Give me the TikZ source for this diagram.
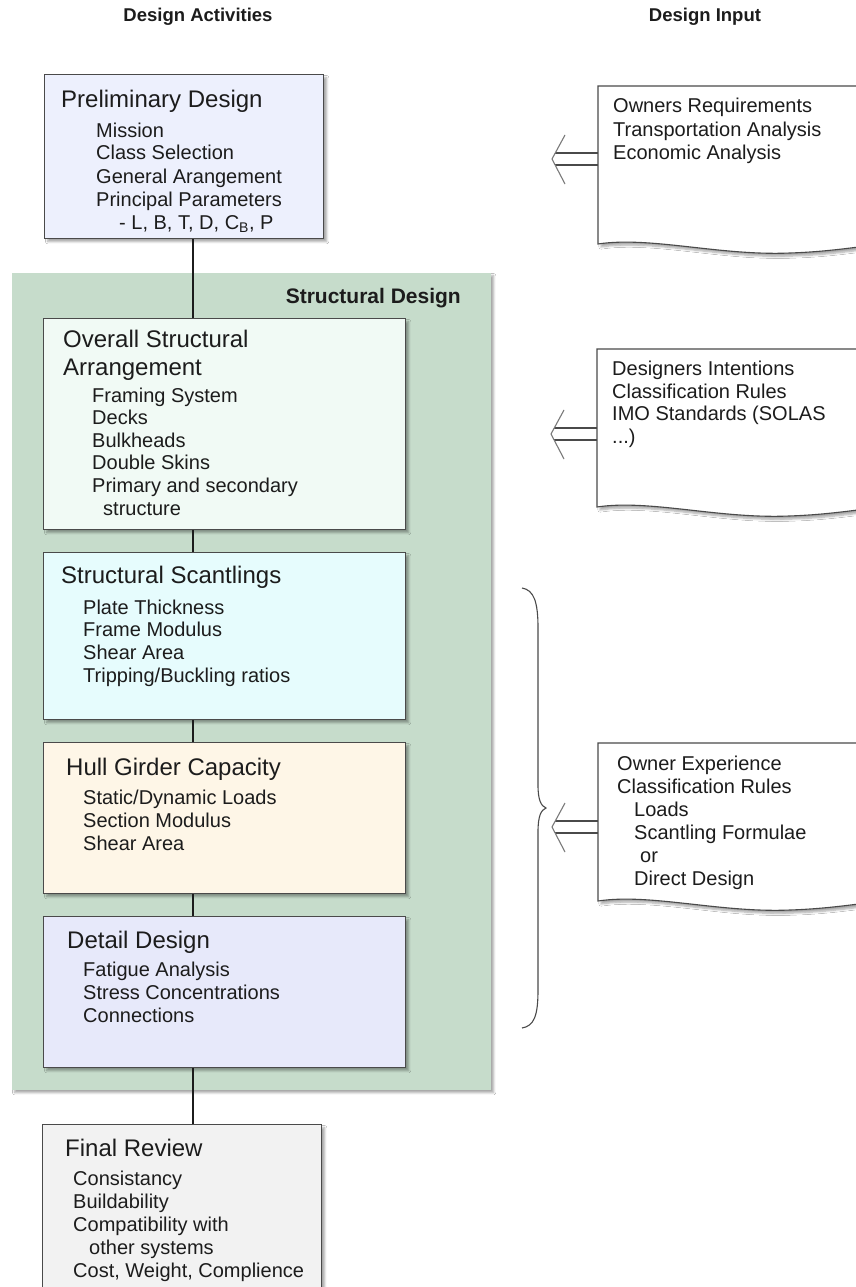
\documentclass[tikz,border=0pt]{standalone}
\usepackage{fontspec}
\setmainfont{Liberation Sans}
\usetikzlibrary{calc,shadows.blur}
\definecolor{bord}{HTML}{4A4A4A}
\definecolor{txt}{HTML}{1C1C1C}
\definecolor{panelgreen}{HTML}{C6DCCB}
\definecolor{prelimfill}{HTML}{EDF0FD}
\definecolor{overallfill}{HTML}{F1FAF5}
\definecolor{scantfill}{HTML}{E6FCFD}
\definecolor{hullfill}{HTML}{FEF6E7}
\definecolor{detailfill}{HTML}{E7E9FA}
\definecolor{finalfill}{HTML}{F2F2F2}
\definecolor{arrowgrey}{HTML}{7A7A7A}
\newcommand\hollowarrow[2]{%
  \draw[arrl] ($(#1)+(0,-6)$) -- ($(#2)+(3,-6)$);
  \draw[arrl] ($(#1)+(0,6)$) -- ($(#2)+(3,6)$);
  \draw[arrh] ($(#2)+(13,-24)$) -- (#2) -- ($(#2)+(13,25)$);}
\begin{document}
\begin{tikzpicture}[x=1pt,y=-1pt,
  softshadow/.style={blur shadow={shadow xshift=3pt, shadow yshift=-3pt, shadow blur steps=6, shadow opacity=35}},
  box/.style={draw=bord, line width=1.3pt, anchor=north west, inner sep=0pt, softshadow},
  ttl/.style={anchor=base west, inner sep=0pt, font=\fontsize{24}{28}\selectfont, text=txt},
  itm/.style={anchor=base west, inner sep=0pt, font=\fontsize{20}{23}\selectfont, text=txt},
  hdr/.style={anchor=base, inner sep=0pt, font=\fontsize{18.5}{21}\selectfont\bfseries, text=txt},
  docsty/.style={draw=bord, line width=1.1pt, fill=white, softshadow},
  arrl/.style={draw=bord, line width=1.1pt},
  arrh/.style={draw=arrowgrey, line width=1.1pt},
  conn/.style={draw=txt, line width=1.3pt},
  bracesty/.style={draw=bord, line width=1.1pt},
  docpic/.pic={\draw[docsty] (0,158) -- (0,0) -- (290,0) -- (290,157)
      .. controls (247,163) and (222,166) .. (192,167)
      .. controls (122,170) and (52,150) .. (0,158) -- cycle;}
  ]
\useasboundingbox (0,0) rectangle (855,1287);
\fill[white] (0,0) rectangle (855,1287);

% headers
\node[hdr] (h1) at (198,22) {Design Activities};
\node[hdr] (h2) at (705,22) {Design Input};

% structural design panel
\node[box, draw=none, fill=panelgreen, minimum width=479pt, minimum height=817pt] (panel) at (11,272) {};
\node[anchor=base east, inner sep=0pt, font=\fontsize{21}{24}\selectfont\bfseries, text=txt] (paneltitle) at (461,303) {Structural Design};

% boxes
\coordinate (spine) at (193,0);
\node[box, fill=prelimfill, minimum width=279pt, minimum height=164pt] (prelim) at (44,74) {};
\node[box, fill=overallfill, minimum width=362pt, minimum height=211pt] (overall) at (43,318) {};
\node[box, fill=scantfill, minimum width=362pt, minimum height=167pt] (scant) at (43,552) {};
\node[box, fill=hullfill, minimum width=362pt, minimum height=151pt] (hull) at (43,742) {};
\node[box, fill=detailfill, minimum width=362pt, minimum height=151pt] (detail) at (43,916) {};
\node[box, fill=finalfill, minimum width=279pt, minimum height=220pt] (final) at (42,1124) {};

% connectors
\draw[conn] (prelim.south -| spine) -- (overall.north -| spine);
\draw[conn] (overall.south -| spine) -- (scant.north -| spine);
\draw[conn] (scant.south -| spine) -- (hull.north -| spine);
\draw[conn] (hull.south -| spine) -- (detail.north -| spine);
\draw[conn] (detail.south -| spine) -- (final.north -| spine);

% preliminary design
\node[ttl] (pt) at (61,108) {Preliminary Design};
\foreach \t [count=\i] in {Mission, Class Selection, General Arangement, Principal Parameters}
  \node[itm] (pi\i) at (96,{137+23*(\i-1)}) {\t};
\node[itm] (pi5) at (119,229) {- L, B, T, D, C\textsubscript{B}, P};

% overall structural arrangement
\node[ttl] (ot1) at (63,347) {Overall Structural};
\node[ttl] (ot2) at (63,375) {Arrangement};
\foreach \t [count=\i] in {Framing System, Decks, Bulkheads, Double Skins, Primary and secondary}
  \node[itm] (oi\i) at (92,{402+22.6*(\i-1)}) {\t};
\node[itm] (oi6) at (103,515) {structure};

% structural scantlings
\node[ttl] (st) at (61,583) {Structural Scantlings};
\foreach \t [count=\i] in {Plate Thickness, Frame Modulus, Shear Area, Tripping/Buckling ratios}
  \node[itm] (si\i) at (83,{614+22.7*(\i-1)}) {\t};

% hull girder capacity
\node[ttl] (ht) at (66,775) {Hull Girder Capacity};
\foreach \t [count=\i] in {Static/Dynamic Loads, Section Modulus, Shear Area}
  \node[itm] (hi\i) at (83,{804+23*(\i-1)}) {\t};

% detail design
\node[ttl] (dt) at (67,948) {Detail Design};
\foreach \t [count=\i] in {Fatigue Analysis, Stress Concentrations, Connections}
  \node[itm] (di\i) at (83,{976+23*(\i-1)}) {\t};

% final review
\node[ttl] (ft) at (65,1156) {Final Review};
\foreach \t [count=\i] in {Consistancy, Buildability, Compatibility with}
  \node[itm] (fi\i) at (73,{1185+23*(\i-1)}) {\t};
\node[itm] (fi4) at (89,1254) {other systems};
\node[itm] (fi5) at (73,1277) {Cost, Weight, Complience};

% design input documents
\pic at (598,86) {docpic};
\node[itm] (d1a) at (613,113) {Owners Requirements};
\node[itm] (d1b) at (613,136) {Transportation Analysis};
\node[itm] (d1c) at (613,159) {Economic Analysis};

\pic at (597,349) {docpic};
\node[itm] (d2a) at (612,375) {Designers Intentions};
\node[itm] (d2b) at (612,398) {Classification Rules};
\node[itm] (d2c) at (612,420) {IMO Standards (SOLAS};
\node[itm] (d2d) at (612,443) {...)};

\pic at (598,743) {docpic};
\node[itm] (d3a) at (617,770) {Owner Experience};
\node[itm] (d3b) at (617,793) {Classification Rules};
\node[itm] (d3c) at (634,816) {Loads};
\node[itm] (d3d) at (634,839) {Scantling Formulae};
\node[itm] (d3e) at (640,862) {or};
\node[itm] (d3f) at (634,885) {Direct Design};

% hollow arrows
\coordinate (a1s) at (598,159); \coordinate (a1t) at (552,159);
\coordinate (a2s) at (597,434); \coordinate (a2t) at (551,434);
\coordinate (a3s) at (598,827); \coordinate (a3t) at (552,827);
\hollowarrow{a1s}{a1t}
\hollowarrow{a2s}{a2t}
\hollowarrow{a3s}{a3t}

% brace
\coordinate (bracetop) at (522,588);
\coordinate (bracetip) at (546,808);
\coordinate (bracebot) at (522,1028);
\draw[bracesty] (bracetop) .. controls (534,590) and (538,602) .. (538,628)
  -- (538,785) .. controls (538,800) and (541,806) .. (bracetip)
  .. controls (541,810) and (538,816) .. (538,832)
  -- (538,990) .. controls (538,1016) and (534,1026) .. (bracebot);
\end{tikzpicture}
\end{document}
